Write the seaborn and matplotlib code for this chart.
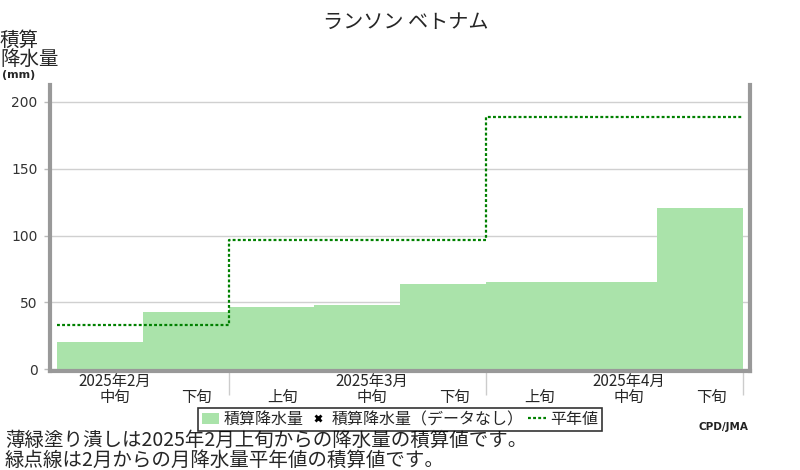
import matplotlib
matplotlib.use('Agg')
import matplotlib.pyplot as plt
import matplotlib.transforms as transforms
from matplotlib.lines import Line2D
from matplotlib.patches import Patch
import numpy as np
import pandas as pd
import seaborn as sns

# data
months = ['2025年2月', '2025年3月', '2025年4月']
dekads = ['中旬', '下旬', '上旬', '中旬', '下旬', '上旬', '中旬', '下旬']
dekad_month = [0, 0, 1, 1, 1, 2, 2, 2]
precip = [20.5, 43.0, 46.7, 48.2, 63.4, 64.9, 64.9, 120.7]
normal_month = [33.3, 97.0, 189.0]
y_ticks = [0, 50, 100, 150, 200]

sns.set_style('white')
plt.rcParams['font.family'] = ['Noto Sans CJK JP', 'DejaVu Sans']

bar_color = '#aae3aa'
line_color = '#008000'
spine_color = '#999999'

df = pd.DataFrame({
    'key': [f'{m}{d}' for m, d in zip(dekad_month, dekads)],
    'precip': precip,
})

fig = plt.figure(figsize=(8, 4.7), dpi=100)
ax = fig.add_axes([50 / 800, 1 - 370.5 / 470, 700 / 800, 285.5 / 470])

sns.barplot(data=df, x='key', y='precip', color=bar_color, width=1.0,
            saturation=1, linewidth=0, ax=ax, zorder=2)

# accumulated monthly normal as a step line
x_edges = np.arange(len(dekads) + 1) - 0.5
normal_y = [normal_month[m] for m in dekad_month]
normal_y = normal_y + [normal_y[-1]]
ax.step(x_edges, normal_y, where='post', color=line_color, lw=1.6,
        ls=(0, (1.3, 1.0)), zorder=3)

ax.set_xlim(-0.582, 7.582)
ax.set_ylim(-1, 212.6)
ax.set_xlabel('')
ax.set_ylabel('')

# y axis
ax.set_yticks(y_ticks)
ax.yaxis.grid(True, color='#d0d0d0', lw=1, zorder=0)
ax.set_axisbelow(True)
ax.tick_params(axis='y', left=True, labelsize=10, length=4, width=1,
               color='#bbbbbb', labelcolor='#333333', pad=5)
for lbl in ax.get_yticklabels():
    lbl.set_fontfamily('DejaVu Sans')

# x axis: month boundaries as long minor ticks, labels as text
ax.set_xticks([])
bounds = [i + 0.5 for i in range(len(dekads) - 1)
          if dekad_month[i] != dekad_month[i + 1]] + [len(dekads) - 0.5]
ax.set_xticks(bounds, minor=True)
ax.tick_params(axis='x', which='minor', bottom=True, length=17, width=1,
               color='#cccccc')
trans = transforms.blended_transform_factory(ax.transData, ax.transAxes)
for i, d in enumerate(dekads):
    if d == '中旬':
        # month name sits just above the middle dekad
        ax.text(i + 0.17, -0.066, months[dekad_month[i]] + '\n' + d,
                transform=trans, ha='center', va='center', fontsize=11,
                linespacing=0.95)
    else:
        ax.text(i + 0.13, -0.093, d, transform=trans, ha='center',
                va='center', fontsize=11)

for side in ['left', 'bottom', 'right']:
    ax.spines[side].set_visible(True)
    ax.spines[side].set_color(spine_color)
    ax.spines[side].set_linewidth(3)
ax.spines['top'].set_visible(False)

# titles and labels
fig.text(406 / 800, 1 - 22 / 470, 'ランソン ベトナム', ha='center', va='center',
         fontsize=14.5)
fig.text(0, 1 - 50 / 470, '積算\n降水量', ha='left', va='center', fontsize=14,
         linespacing=0.9)
fig.text(2 / 800, 1 - 75 / 470, '(mm)', ha='left', va='center', fontsize=8,
         weight='bold', family='DejaVu Sans')

# legend
handles = [
    Patch(facecolor=bar_color, edgecolor='none'),
    Line2D([], [], marker='x', color='black', ls='none', markersize=5, mew=2),
    Line2D([], [], color=line_color, lw=1.6, ls=(0, (1.3, 1.0))),
]
labels = ['積算降水量', '積算降水量（データなし）', '平年値']
leg = fig.legend(handles, labels, loc='center',
                 bbox_to_anchor=(400 / 800, 1 - 419.5 / 470), ncol=3,
                 frameon=True, fancybox=False, edgecolor='black', fontsize=11.5,
                 handlelength=1.1, handletextpad=0.3, columnspacing=0.3,
                 borderpad=0.2, borderaxespad=0)
leg.get_frame().set_linewidth(1.2)

fig.text(5 / 800, 1 - 440 / 470, '薄緑塗り潰しは2025年2月上旬からの降水量の積算値です。',
         ha='left', va='center', fontsize=14)
fig.text(5 / 800, 1 - 460 / 470, '緑点線は2月からの月降水量平年値の積算値です。',
         ha='left', va='center', fontsize=14)
fig.text(748 / 800, 1 - 427 / 470, 'CPD/JMA', ha='right', va='center',
         fontsize=7.5, weight='bold', family='DejaVu Sans', color='#222222')

fig.savefig('out.png', dpi=100)
